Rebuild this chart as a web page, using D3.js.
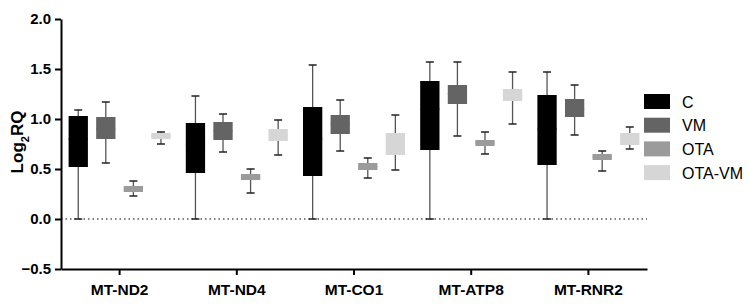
<!DOCTYPE html>
<html>
<head>
<meta charset="utf-8">
<script src="https://cdn.jsdelivr.net/npm/d3@7"></script>
<style>
  body { margin: 0; background: #fff; }
  svg { font-family: Arial, "Liberation Sans", sans-serif; }
</style>
</head>
<body>
<div id="chart"></div>
<script>
// genes on the x axis and the four treatment groups
const genes = ["MT-ND2", "MT-ND4", "MT-CO1", "MT-ATP8", "MT-RNR2"];
const groups = ["C", "VM", "OTA", "OTA-VM"];
const groupColors = ["#000000", "#646464", "#9b9b9b", "#d6d6d6"];
const yTicks = [-0.5, 0.0, 0.5, 1.0, 1.5, 2.0];

// [min, q1, median, q3, max] per gene, one array per group
const boxC = [
  [0.00, 0.52, 0.80, 1.03, 1.09],
  [0.00, 0.46, 0.75, 0.96, 1.23],
  [0.00, 0.43, 0.80, 1.12, 1.54],
  [0.00, 0.69, 1.10, 1.38, 1.57],
  [0.00, 0.54, 0.90, 1.24, 1.47]
];
const boxVM = [
  [0.56, 0.80, 0.90, 1.02, 1.17],
  [0.67, 0.79, 0.88, 0.97, 1.05],
  [0.68, 0.85, 0.95, 1.04, 1.19],
  [0.83, 1.15, 1.25, 1.34, 1.57],
  [0.84, 1.02, 1.10, 1.20, 1.34]
];
const boxOTA = [
  [0.23, 0.27, 0.30, 0.33, 0.38],
  [0.26, 0.39, 0.42, 0.45, 0.50],
  [0.41, 0.49, 0.52, 0.56, 0.61],
  [0.65, 0.73, 0.76, 0.79, 0.87],
  [0.48, 0.59, 0.62, 0.65, 0.68]
];
const boxOTAVM = [
  [0.75, 0.80, 0.83, 0.86, 0.87],
  [0.64, 0.78, 0.84, 0.90, 0.99],
  [0.49, 0.64, 0.75, 0.86, 1.04],
  [0.95, 1.18, 1.24, 1.30, 1.47],
  [0.70, 0.74, 0.80, 0.86, 0.92]
];
const seriesBoxes = [boxC, boxVM, boxOTA, boxOTAVM];

const width = 749, height = 307;
const margin = {top: 19, right: 102, bottom: 38, left: 61};

const svg = d3.select("#chart").append("svg")
    .attr("width", width)
    .attr("height", height);

const x = d3.scaleBand()
    .domain(genes)
    .range([margin.left, width - margin.right]);

// inner band layout, narrower than the gene band like the original
const innerSpan = 102;
const innerOffset = (x.bandwidth() - innerSpan) / 2;
const xInner = d3.scaleBand()
    .domain(groups)
    .range([innerOffset, innerOffset + innerSpan])
    .paddingInner(0.3)
    .paddingOuter(0.0);

const y = d3.scaleLinear()
    .domain([-0.5, 2.0])
    .range([height - margin.bottom, margin.top]);

// dotted zero line
svg.append("line")
    .attr("x1", margin.left)
    .attr("x2", width - margin.right)
    .attr("y1", y(0))
    .attr("y2", y(0))
    .attr("stroke", "#000")
    .attr("stroke-width", 1.2)
    .attr("stroke-dasharray", "1.5,3");

// boxes
const data = [];
genes.forEach((g, i) => {
  groups.forEach((grp, j) => {
    const v = seriesBoxes[j][i];
    data.push({gene: g, group: grp, color: groupColors[j],
      min: v[0], q1: v[1], med: v[2], q3: v[3], max: v[4]});
  });
});

const boxW = xInner.bandwidth();
const capW = 8;

const box = svg.append("g").selectAll("g")
    .data(data)
    .join("g")
    .attr("transform", d => `translate(${x(d.gene) + xInner(d.group)},0)`);

// whisker stem
box.append("line")
    .attr("x1", boxW / 2).attr("x2", boxW / 2)
    .attr("y1", d => y(d.max)).attr("y2", d => y(d.min))
    .attr("stroke", "#555")
    .attr("stroke-width", 1.3);

// caps
box.selectAll(".cap")
    .data(d => [d.min, d.max])
    .join("line")
    .attr("class", "cap")
    .attr("x1", boxW / 2 - capW / 2).attr("x2", boxW / 2 + capW / 2)
    .attr("y1", v => y(v)).attr("y2", v => y(v))
    .attr("stroke", "#222")
    .attr("stroke-width", 1.5);

box.append("rect")
    .attr("x", 0)
    .attr("width", boxW)
    .attr("y", d => y(d.q3))
    .attr("height", d => y(d.q1) - y(d.q3))
    .attr("fill", d => d.color);

// median (same tone as the box, hardly visible in the original)
box.append("line")
    .attr("x1", 0).attr("x2", boxW)
    .attr("y1", d => y(d.med)).attr("y2", d => y(d.med))
    .attr("stroke", d => d.color)
    .attr("stroke-width", 1);

// axes
const yAxis = svg.append("g")
    .attr("transform", `translate(${margin.left},0)`)
    .call(d3.axisLeft(y).tickValues(yTicks).tickFormat(d => d3.format(".1f")(d).replace("-", "\u2212")).tickSize(6).tickSizeOuter(0));

const xAxis = svg.append("g")
    .attr("transform", `translate(0,${height - margin.bottom})`)
    .call(d3.axisBottom(x).tickSize(6).tickSizeOuter(0));

[yAxis, xAxis].forEach(a => {
  a.select(".domain").attr("stroke", "#000").attr("stroke-width", 2);
  a.selectAll(".tick line").attr("stroke", "#000").attr("stroke-width", 2);
  a.selectAll(".tick text")
      .attr("fill", "#000")
      .style("font-size", "15px")
      .style("font-weight", "bold");
});
yAxis.selectAll(".tick text").attr("x", -10);
xAxis.selectAll(".tick text").attr("y", 15).style("font-size", "15.5px");

// y axis title
const yTitle = svg.append("text")
    .attr("transform", `translate(23,142) rotate(-90)`)
    .attr("text-anchor", "middle")
    .style("font-size", "17px")
    .style("font-weight", "bold");
yTitle.append("tspan").text("Log");
yTitle.append("tspan").attr("baseline-shift", "sub").style("font-size", "11px").text("2");
yTitle.append("tspan").text("RQ");

// legend
const legend = svg.append("g")
    .attr("transform", "translate(644,94)");

const item = legend.selectAll("g")
    .data(groups)
    .join("g")
    .attr("transform", (d, i) => `translate(0,${i * 23.7})`);

item.append("rect")
    .attr("width", 26)
    .attr("height", 15)
    .attr("fill", (d, i) => groupColors[i]);

item.append("text")
    .attr("x", 38)
    .attr("y", 13.5)
    .style("font-size", "16px")
    .text(d => d);
</script>
</body>
</html>
